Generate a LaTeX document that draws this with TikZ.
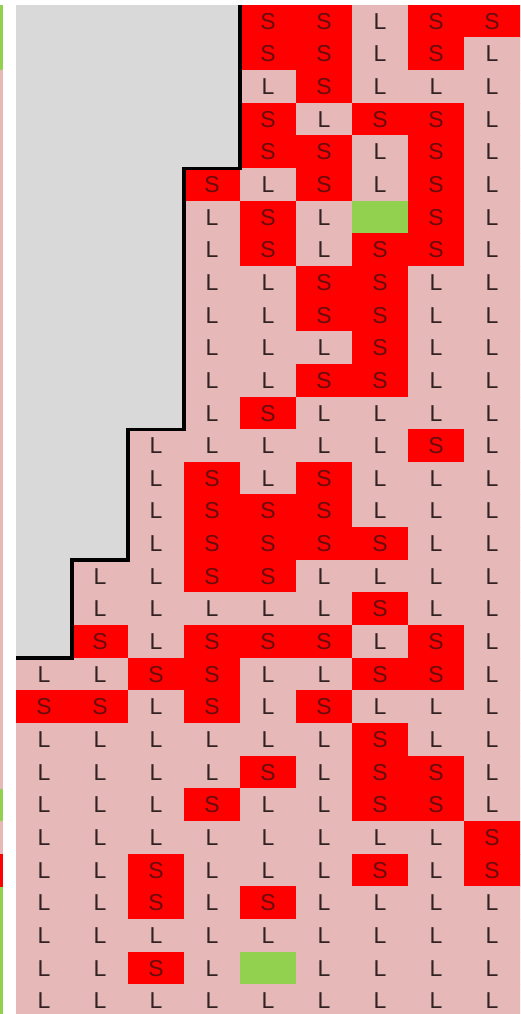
\documentclass[tikz,border=0pt]{standalone}
\usepackage{fontspec}
\setmainfont{Liberation Sans}
\definecolor{cpink}{HTML}{E6B8B7}
\definecolor{cred}{HTML}{FF0000}
\definecolor{cgreen}{HTML}{92D050}
\definecolor{cgray}{HTML}{D9D9D9}
\definecolor{ctextL}{RGB}{50,35,35}
\definecolor{ctextS}{RGB}{105,12,12}
\begin{document}
\begin{tikzpicture}[x=1pt,y=-1pt,
  cellbase/.style={rectangle, inner sep=0pt, outer sep=0pt, line width=0.6pt,
    minimum width=56pt, minimum height=32.65pt, anchor=north west,
    font=\fontsize{23}{23}\selectfont},
  cellS/.style={cellbase, fill=cred, draw=cred, text=ctextS, node contents=S},
  cellL/.style={cellbase, fill=cpink, draw=cpink, text=ctextL, node contents=L},
  cellG/.style={cellbase, fill=cgray, draw=cgray, node contents={}},
  cellV/.style={cellbase, fill=cgreen, draw=cgreen, node contents={}},
  stair/.style={line width=3.2pt, draw=black, line join=miter}
]
\useasboundingbox (0,0) rectangle (520,1014);
\clip (0,0) rectangle (520,1014);
% left indicator strip
\foreach \col [count=\r from 0] in {cgreen,cgreen,cpink,cpink,cpink,cpink,cpink,cpink,cpink,cpink,cpink,cpink,cpink,cpink,cpink,cpink,cpink,cpink,cpink,cpink,cpink,cpink,cpink,cpink,cgreen,cpink,cred,cgreen,cgreen,cgreen,cgreen}{
  \fill[\col] (0,{5+32.65*\r}) rectangle (3,{5+32.65*(\r+1)+0.3});
}
% grid
\foreach \row [count=\r from 0] in {
  {G,G,G,G,S,S,L,S,S},
  {G,G,G,G,S,S,L,S,L},
  {G,G,G,G,L,S,L,L,L},
  {G,G,G,G,S,L,S,S,L},
  {G,G,G,G,S,S,L,S,L},
  {G,G,G,S,L,S,L,S,L},
  {G,G,G,L,S,L,V,S,L},
  {G,G,G,L,S,L,S,S,L},
  {G,G,G,L,L,S,S,L,L},
  {G,G,G,L,L,S,S,L,L},
  {G,G,G,L,L,L,S,L,L},
  {G,G,G,L,L,S,S,L,L},
  {G,G,G,L,S,L,L,L,L},
  {G,G,L,L,L,L,L,S,L},
  {G,G,L,S,L,S,L,L,L},
  {G,G,L,S,S,S,L,L,L},
  {G,G,L,S,S,S,S,L,L},
  {G,L,L,S,S,L,L,L,L},
  {G,L,L,L,L,L,S,L,L},
  {G,S,L,S,S,S,L,S,L},
  {L,L,S,S,L,L,S,S,L},
  {S,S,L,S,L,S,L,L,L},
  {L,L,L,L,L,L,S,L,L},
  {L,L,L,L,S,L,S,S,L},
  {L,L,L,S,L,L,S,S,L},
  {L,L,L,L,L,L,L,L,S},
  {L,L,S,L,L,L,S,L,S},
  {L,L,S,L,S,L,L,L,L},
  {L,L,L,L,L,L,L,L,L},
  {L,L,S,L,V,L,L,L,L},
  {L,L,L,L,L,L,L,L,L}}{
  \foreach \v [count=\c from 0] in \row {
    \node[name=n-\r-\c, cell\v, at={(16+56*\c, 5+32.65*\r)}];
  }
}
% staircase boundary of the grey area
\draw[stair] (n-0-4.north west) -- (n-4-4.south west) -- (n-5-3.north west)
  -- (n-12-3.south west) -- (n-13-2.north west)
  -- (n-16-2.south west) -- (n-17-1.north west)
  -- (n-19-1.south west) -- (n-20-0.north west);
\end{tikzpicture}
\end{document}
